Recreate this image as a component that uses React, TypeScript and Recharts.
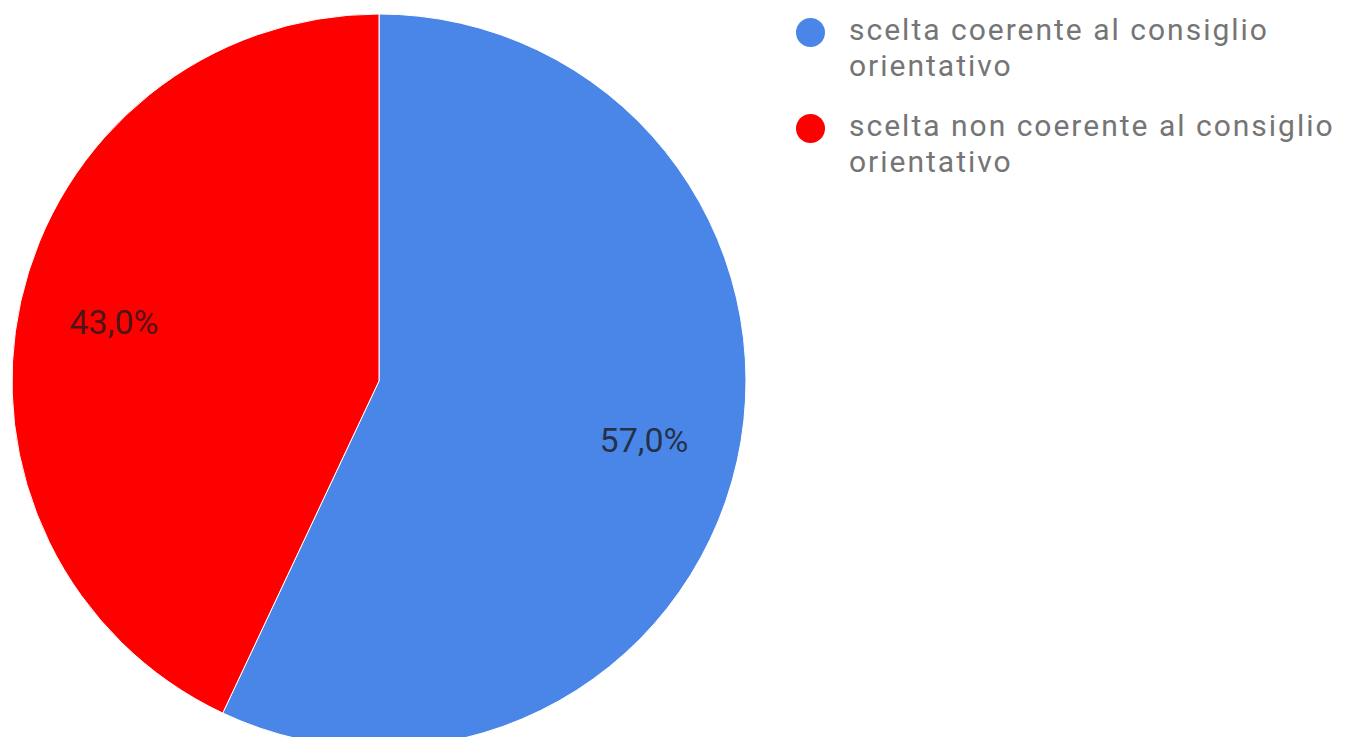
import { Cell, Legend, Pie, PieChart } from 'recharts'

const categories = ['scelta coerente al consiglio orientativo', 'scelta non coerente al consiglio orientativo']
const legendLines = [
  ['scelta coerente al consiglio', 'orientativo'],
  ['scelta non coerente al consiglio', 'orientativo'],
]
const values = [57.0, 43.0]
const colors = ['#4a86e8', '#ff0000']

const data = categories.map((name, i) => ({ name, value: values[i] }))

const RAD = Math.PI / 180

function SliceLabel({ cx, cy, midAngle, outerRadius, value }: any) {
  const r = outerRadius * 0.74
  const x = cx + r * Math.cos(-midAngle * RAD)
  const y = cy + r * Math.sin(-midAngle * RAD)
  return (
    <text
      x={x}
      y={y}
      textAnchor="middle"
      dominantBaseline="central"
      fontFamily="Roboto, sans-serif"
      fontSize={34}
      fill="#1a1a1a"
      fillOpacity={0.8}
    >
      {value.toFixed(1).replace('.', ',')}%
    </text>
  )
}

function PieLegend() {
  return (
    <div
      style={{
        fontFamily: 'Roboto, sans-serif',
        fontSize: 30,
        letterSpacing: 2,
        color: '#757575',
        lineHeight: '35.5px',
        whiteSpace: 'nowrap',
      }}
    >
      {legendLines.map((lines, i) => (
        <div key={i} style={{ display: 'flex', alignItems: 'flex-start', marginBottom: 25 }}>
          <span
            style={{
              width: 29,
              height: 29,
              borderRadius: 15,
              background: colors[i],
              marginTop: 6,
              marginRight: 24,
              flexShrink: 0,
            }}
          />
          <div>
            {lines.map((l, j) => (
              <div key={j}>{l}</div>
            ))}
          </div>
        </div>
      ))}
    </div>
  )
}

export default function App() {
  return (
    <div style={{ margin: -8, width: 1351, height: 745, background: '#fff', overflow: 'hidden' }}>
      <PieChart width={1351} height={745} margin={{ top: 0, right: 0, bottom: 0, left: 0 }}>
        <Pie
          data={data}
          dataKey="value"
          nameKey="name"
          cx={379}
          cy={381}
          outerRadius={367}
          startAngle={90}
          endAngle={-270}
          stroke="#fff"
          strokeWidth={1}
          label={SliceLabel}
          labelLine={false}
          isAnimationActive={false}
        >
          {data.map((d, i) => (
            <Cell key={d.name} fill={colors[i]} />
          ))}
        </Pie>
        <Legend
          content={<PieLegend />}
          layout="vertical"
          verticalAlign="top"
          align="right"
          wrapperStyle={{ left: 796, top: 12, width: 555 }}
        />
      </PieChart>
    </div>
  )
}
